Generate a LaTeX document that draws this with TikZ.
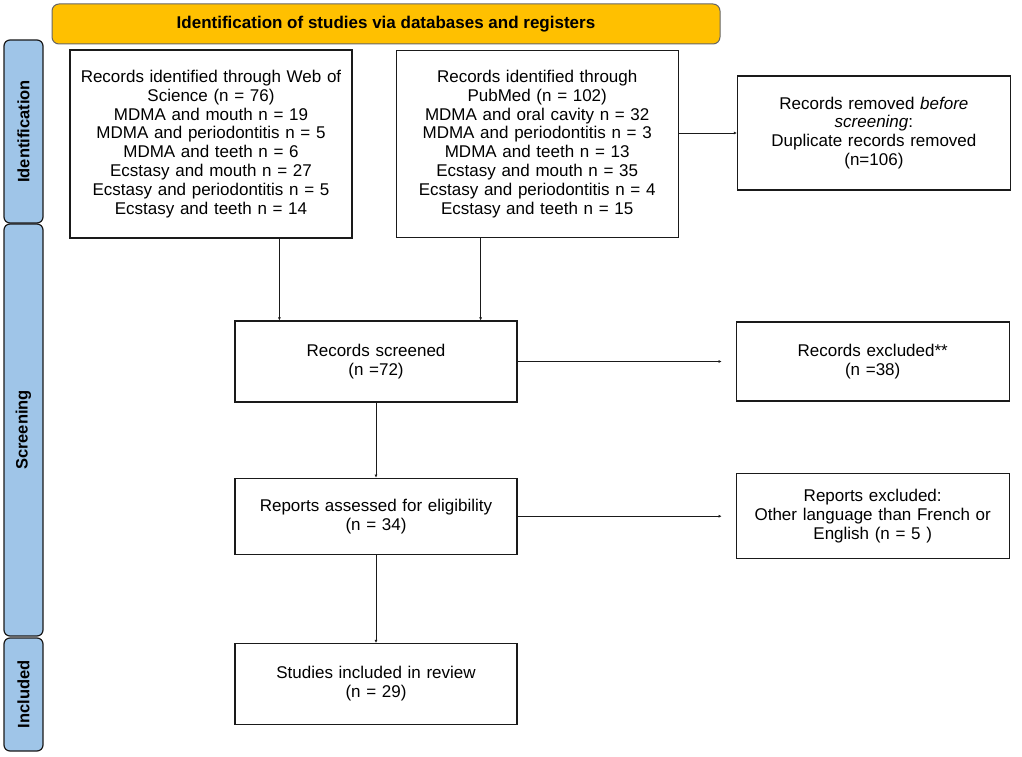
\documentclass[tikz,border=0pt]{standalone}
\usepackage{fontspec}
\setmainfont{Liberation Sans}
\usetikzlibrary{arrows.meta,positioning,calc}
\definecolor{prismaGold}{HTML}{FFC000}
\definecolor{prismaBlue}{HTML}{9FC5E8}
\definecolor{prismaInk}{HTML}{1A1A1A}

\begin{document}
\begin{tikzpicture}[
    x=1pt, y=-1pt,
    font=\fontsize{17}{18.8}\selectfont,
    node distance=43pt and 43pt,
    recordbox/.style={
        rectangle,
        draw=prismaInk,
        line width=1.2pt,
        fill=white,
        align=center,
        inner sep=4pt
    },
    mainbox/.style={
        recordbox,
        minimum width=282pt,
        text width=272pt
    },
    sidebox/.style={
        recordbox,
        minimum width=273pt,
        text width=263pt
    },
    banner/.style={
        rectangle,
        rounded corners=7pt,
        draw=black!60,
        line width=1pt,
        fill=prismaGold,
        minimum width=668pt,
        minimum height=40pt,
        font=\fontsize{17}{19}\selectfont\bfseries
    },
    phasetab/.style={
        rectangle,
        rounded corners=6pt,
        draw=prismaInk,
        line width=1.2pt,
        fill=prismaBlue,
        rotate=90,
        minimum height=39pt,
        font=\fontsize{16.5}{18}\selectfont\bfseries
    },
    flow/.style={
        -{Latex[length=3pt,width=3pt]},
        line width=0.9pt,
        draw=prismaInk
    }
]
\useasboundingbox (0,0) rectangle (1022,757);

% -------------------- Header and phase tabs --------------------
\node[banner] (head) at (386,24) {Identification of studies via databases and registers};

\node[phasetab, minimum width=183pt] (tabident) at (23.5,131.5) {Identification};
\node[phasetab, minimum width=412pt] (tabscreen) at (23.5,430) {Screening};
\node[phasetab, minimum width=113pt] (tabinclude) at (23.5,694.5) {Included};

% -------------------- Identification --------------------
\node[mainbox, minimum height=188pt] (wos) at (211,144) {
  Records identified through Web of\\
  Science (n = 76)\\
  MDMA and mouth n = 19\\
  MDMA and periodontitis n = 5\\
  MDMA and teeth n = 6\\
  Ecstasy and mouth n = 27\\
  Ecstasy and periodontitis n = 5\\
  Ecstasy and teeth n = 14\par\vspace{12pt}
};

\node[mainbox, minimum height=187pt, right=43pt of wos] (pubmed) {
  Records identified through\\
  PubMed (n = 102)\\
  MDMA and oral cavity n = 32\\
  MDMA and periodontitis n = 3\\
  MDMA and teeth n = 13\\
  Ecstasy and mouth n = 35\\
  Ecstasy and periodontitis n = 4\\
  Ecstasy and teeth n = 15
};

\node[sidebox, minimum height=114pt, right=58pt of pubmed, yshift=11pt] (removed) {
  Records removed \textit{before}\\
  \textit{screening}:\\
  Duplicate records removed\\
  (n=106)
};

% -------------------- Screening --------------------
\node[mainbox, minimum height=81pt] (screened) at (376,361.5) {
  Records screened\\
  (n =72)
};

\node[sidebox, minimum height=79pt, right=218pt of screened] (excluded) {
  Records excluded**\\
  (n =38)
};

\node[mainbox, minimum height=76pt, below=75pt of screened] (reports) {
  Reports assessed for eligibility\\
  (n = 34)
};

\node[sidebox, minimum height=85pt, right=218pt of reports] (reportsout) {
  Reports excluded:\\
  Other language than French or\\
  English (n = 5 )
};

% -------------------- Included --------------------
\node[mainbox, minimum height=81pt, below=88pt of reports] (included) {
  Studies included in review\\
  (n = 29)
};

% -------------------- Flows --------------------
\coordinate (wosdrop) at ([xshift=45pt]screened.north west);
\coordinate (pubdrop) at ([xshift=-37pt]screened.north east);
\draw[flow] (wosdrop |- wos.south) -- (wosdrop);
\draw[flow] (pubdrop |- pubmed.south) -- (pubdrop);
\draw[flow] (removed.west -| pubmed.east) -- (removed.west);
\draw[flow, shorten >=14pt] (screened.east) -- (excluded.west);
\draw[flow, shorten >=14pt] (reports.east) -- (reportsout.west);
\draw[flow] (screened.south) -- (reports.north);
\draw[flow] (reports.south) -- (included.north);

\end{tikzpicture}
\end{document}
